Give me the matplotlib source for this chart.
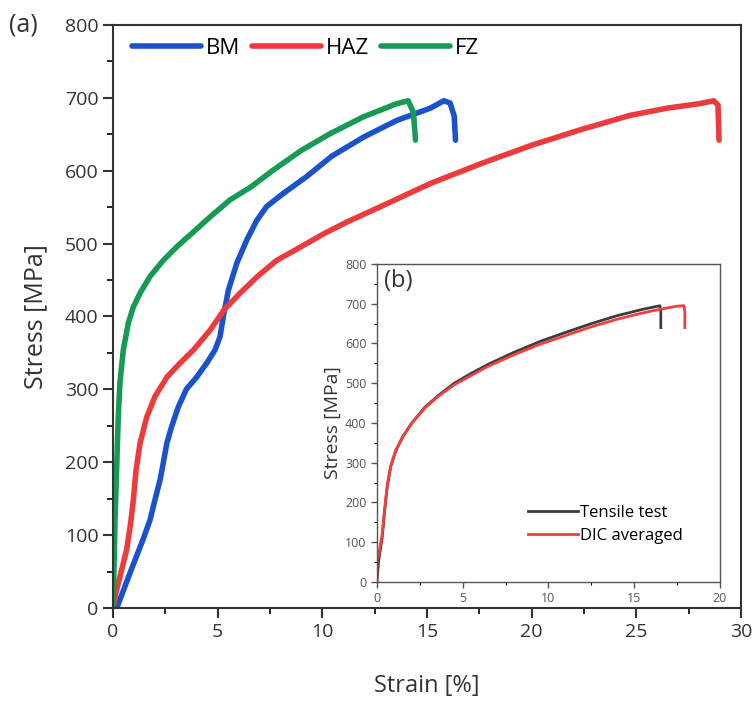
import numpy as np
import matplotlib.pyplot as plt
from matplotlib.ticker import MultipleLocator

plt.rcParams['font.family'] = ['Open Sans', 'DejaVu Sans']

# main panel (a): stress-strain curves
bm_strain = [0.18, 0.81, 1.46, 1.77, 2.0, 2.25, 2.4, 2.57, 2.8, 3.12, 3.5, 4.0, 4.5, 4.87,
             5.11, 5.27, 5.51, 5.91, 6.39, 6.87, 7.34, 8.14, 9.25, 10.45, 11.96, 13.55,
             15.17, 15.8, 16.1, 16.3, 16.36]
bm_stress = [0, 48, 96, 121, 148, 176, 199, 226, 249, 276, 300, 317, 337, 354,
             372, 400, 436, 473, 505, 532, 551, 569, 592, 620, 646, 669,
             686, 696, 693, 675, 642]

haz_strain = [0, 0.13, 0.41, 0.65, 0.84, 0.97, 1.1, 1.29, 1.61, 2.0, 2.58, 3.2, 3.84, 4.63,
              5.3, 6.07, 6.9, 7.82, 9.0, 10.1, 11.2, 12.8, 15.2, 17.6, 20.0, 22.3,
              24.7, 26.5, 28.0, 28.7, 28.9, 28.95]
haz_stress = [0, 20, 52, 80, 116, 148, 189, 226, 262, 290, 317, 336, 354, 381,
              409, 432, 455, 477, 496, 514, 530, 551, 583, 610, 635, 656,
              676, 686, 692, 696, 690, 642]

fz_strain = [0, 0.05, 0.1, 0.25, 0.33, 0.49, 0.73, 0.97, 1.29, 1.77, 2.4, 3.06, 3.84,
             4.65, 5.59, 6.6, 7.66, 9.0, 10.38, 11.96, 13.55, 14.1, 14.35, 14.45]
fz_stress = [0, 60, 125, 262, 309, 354, 391, 413, 432, 455, 477, 496, 516,
             537, 560, 578, 601, 628, 651, 674, 692, 696, 680, 642]

# inset (b): tensile test vs DIC averaged
tt_strain = [0, 0.1, 0.3, 0.45, 0.6, 0.8, 1.1, 1.5, 2.0, 2.8, 3.6, 4.5, 5.5, 6.5, 8.0,
             9.5, 11.0, 12.5, 14.0, 15.5, 16.5, 16.55, 16.55]
tt_stress = [0, 55, 110, 180, 240, 290, 330, 365, 398, 440, 470, 500, 525, 548, 578,
             605, 628, 650, 670, 686, 695, 680, 640]
dic_strain = [0, 0, 0.15, 0.3, 0.45, 0.6, 0.8, 1.1, 1.5, 2.0, 2.8, 3.6, 4.5, 5.5, 6.5,
              8.0, 9.5, 11.0, 12.5, 14.0, 15.5, 16.5, 17.5, 17.9, 17.95, 17.95]
dic_stress = [0, 50, 80, 120, 185, 245, 292, 332, 366, 398, 438, 468, 496, 520, 543,
              572, 598, 620, 642, 661, 677, 686, 694, 695, 680, 640]

fig = plt.figure(figsize=(7.55, 7.04), dpi=100)
ax = fig.add_axes([0.1497, 0.1364, 0.8318, 0.8281])

kw = dict(lw=4, solid_capstyle='round', solid_joinstyle='round')
ax.plot(bm_strain, bm_stress, color='#1a52cc', label='BM', **kw)
ax.plot(haz_strain, haz_stress, color='#ec3b3d', label='HAZ', **kw)
ax.plot(fz_strain, fz_stress, color='#179a55', label='FZ', **kw)

ax.set_xlim(0, 30)
ax.set_ylim(0, 800)
ax.xaxis.set_major_locator(MultipleLocator(5))
ax.xaxis.set_minor_locator(MultipleLocator(2.5))
ax.yaxis.set_major_locator(MultipleLocator(100))
ax.yaxis.set_minor_locator(MultipleLocator(50))
ax.tick_params(which='major', direction='out', length=7, width=1.5, labelsize=14, colors='#333333')
ax.tick_params(which='minor', direction='out', length=4, width=1.2)
for s in ax.spines.values():
    s.set_linewidth(1.5)
    s.set_color('#333333')
ax.set_xlabel('Strain [%]', fontsize=17, labelpad=24, color='#333333')
ax.set_ylabel('Stress [MPa]', fontsize=18, labelpad=12, color='#333333')
ax.legend(loc='center left', bbox_to_anchor=(0.03, 0.9605), ncol=3, frameon=False,
          fontsize=16, handlelength=3.1, handletextpad=0.22, columnspacing=0.55,
          borderpad=0, borderaxespad=0)
fig.text(0.012, 0.964, '(a)', fontsize=18, color='#333333', va='center')

# inset
axi = fig.add_axes([0.4993, 0.1733, 0.4543, 0.4517])
axi.set_facecolor('white')
axi.plot(tt_strain, tt_stress, color='#3c3c3c', lw=2, label='Tensile test', solid_joinstyle='round')
axi.plot(dic_strain, dic_stress, color='#f2403f', lw=2, label='DIC averaged', solid_joinstyle='round')
axi.set_xlim(0, 20)
axi.set_ylim(0, 800)
axi.xaxis.set_major_locator(MultipleLocator(5))
axi.xaxis.set_minor_locator(MultipleLocator(2.5))
axi.yaxis.set_major_locator(MultipleLocator(100))
axi.yaxis.set_minor_locator(MultipleLocator(50))
axi.tick_params(which='major', direction='out', length=4, width=1, labelsize=9, colors='#555555')
axi.tick_params(which='minor', direction='out', length=2, width=0.8)
for s in axi.spines.values():
    s.set_linewidth(1)
    s.set_color('#555555')
axi.set_ylabel('Stress [MPa]', fontsize=14, labelpad=2, color='#333333')
axi.legend(loc='lower left', bbox_to_anchor=(0.44, 0.12), frameon=False, fontsize=12,
           handlelength=3.0, handletextpad=0.1, labelspacing=0.4, borderpad=0, borderaxespad=0)
axi.text(0.02, 0.985, '(b)', transform=axi.transAxes, fontsize=17, va='top', color='#333333')

fig.savefig('out.png', dpi=100)
